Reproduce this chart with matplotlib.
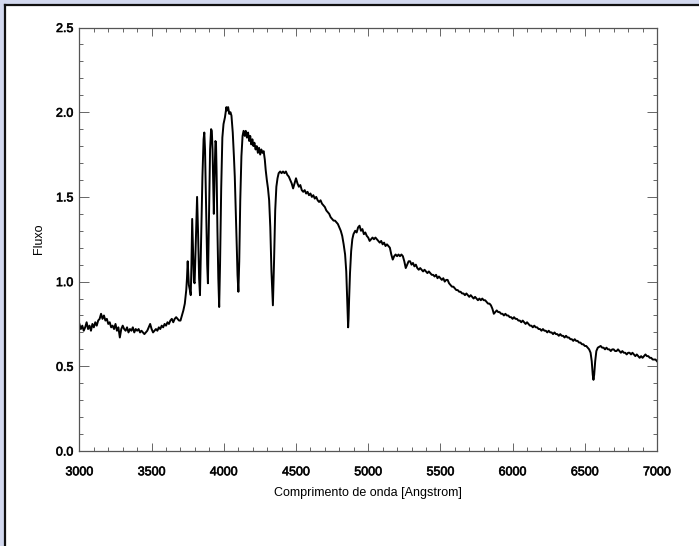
import numpy as np
import matplotlib.pyplot as plt
import matplotlib.patheffects as pe
from matplotlib.lines import Line2D
from matplotlib.patches import Rectangle
from matplotlib.ticker import MultipleLocator

# near-UV continuum, 3000-3720 A every 10 A
uv_wave = np.arange(3000, 3721, 10)
uv_flux = [0.75, 0.72, 0.74, 0.71, 0.73, 0.76, 0.72, 0.74, 0.71, 0.75,
           0.73, 0.76, 0.74, 0.77, 0.78, 0.81, 0.78, 0.80, 0.77, 0.78,
           0.75, 0.76, 0.73, 0.74, 0.72, 0.75, 0.71, 0.73, 0.67, 0.72,
           0.74, 0.72, 0.71, 0.73, 0.70, 0.72, 0.71, 0.73, 0.70, 0.72,
           0.71, 0.72, 0.70, 0.71, 0.70, 0.69, 0.70, 0.71, 0.73, 0.75,
           0.72, 0.70, 0.71, 0.72, 0.71, 0.73, 0.72, 0.74, 0.73, 0.75,
           0.74, 0.76, 0.75, 0.77, 0.78, 0.76, 0.78, 0.79, 0.78, 0.77,
           0.77, 0.80, 0.83]

# Balmer series region (H12 ... H-gamma)
balmer_wave = [3730, 3740, 3745, 3750, 3758, 3765, 3771, 3776, 3781, 3787,
               3793, 3798, 3805, 3815, 3822, 3829, 3835, 3842, 3852, 3860,
               3865, 3870, 3878, 3885, 3890, 3897, 3905, 3912, 3917, 3922,
               3928, 3931, 3936, 3942, 3946, 3950, 3956, 3962, 3968, 3974,
               3982, 3990, 3998, 4008, 4018, 4023, 4030, 4038, 4046, 4053,
               4062, 4070, 4076, 4083, 4090, 4095, 4101, 4107, 4114, 4122,
               4130, 4137, 4145, 4152, 4160, 4168, 4176, 4183, 4190, 4198,
               4205, 4212, 4220, 4228, 4236, 4244, 4252, 4260, 4268, 4276,
               4284, 4290, 4298, 4306, 4314, 4322, 4330, 4340, 4348, 4356,
               4364, 4372, 4380]
balmer_flux = [0.87, 0.95, 1.02, 1.12, 0.98, 0.95, 0.92, 1.10, 1.37, 1.18,
               1.00, 0.99, 1.20, 1.50, 1.28, 1.02, 0.92, 1.20, 1.62, 1.84,
               1.88, 1.78, 1.40, 1.10, 0.99, 1.35, 1.78, 1.90, 1.89, 1.78,
               1.52, 1.40, 1.62, 1.83, 1.82, 1.65, 1.30, 1.02, 0.85, 1.10,
               1.55, 1.85, 1.93, 1.97, 2.03, 2.01, 2.03, 1.99, 2.00, 1.98,
               1.88, 1.74, 1.62, 1.42, 1.20, 1.04, 0.94, 1.12, 1.48, 1.74,
               1.86, 1.89, 1.86, 1.89, 1.85, 1.88, 1.83, 1.86, 1.81, 1.84,
               1.80, 1.82, 1.78, 1.80, 1.76, 1.79, 1.75, 1.78, 1.76, 1.77,
               1.72, 1.66, 1.60, 1.55, 1.48, 1.32, 1.06, 0.86, 1.12, 1.42,
               1.56, 1.61, 1.64]

# blue continuum up to the H-beta wing
blue_wave = np.arange(4390, 4831, 10)
blue_flux = [1.65, 1.64, 1.65, 1.64, 1.65, 1.63, 1.62, 1.60, 1.58, 1.55,
             1.58, 1.61, 1.58, 1.56, 1.57, 1.54, 1.53, 1.54, 1.52, 1.53,
             1.51, 1.52, 1.50, 1.51, 1.49, 1.50, 1.48, 1.47, 1.48, 1.46,
             1.45, 1.44, 1.42, 1.41, 1.40, 1.38, 1.37, 1.36, 1.36, 1.35,
             1.34, 1.32, 1.30, 1.27, 1.22]

hbeta_wave = [4840, 4848, 4854, 4858, 4861, 4864, 4868, 4874, 4882, 4890, 4898]
hbeta_flux = [1.16, 1.06, 0.90, 0.78, 0.73, 0.78, 0.90, 1.05, 1.18, 1.25, 1.28]

# visual continuum 4910-6520 A
vis_wave = np.arange(4910, 6521, 10)
vis_flux = [1.30, 1.29, 1.32, 1.33, 1.30, 1.31, 1.28, 1.29, 1.27, 1.26,
            1.24, 1.25, 1.26, 1.25, 1.26, 1.25, 1.24, 1.23, 1.24, 1.22,
            1.23, 1.21, 1.22, 1.21, 1.20, 1.16, 1.13, 1.15, 1.16, 1.15,
            1.16, 1.15, 1.16, 1.15, 1.12, 1.08, 1.10, 1.12, 1.12, 1.10,
            1.11, 1.09, 1.10, 1.08, 1.07, 1.08, 1.07, 1.06, 1.07, 1.06,
            1.05, 1.06, 1.05, 1.04, 1.04, 1.03, 1.04, 1.02, 1.03, 1.02,
            1.01, 1.02, 1.00, 1.01, 1.01, 0.99, 0.98, 0.97, 0.97, 0.96,
            0.95, 0.95, 0.94, 0.94, 0.93, 0.93, 0.92, 0.93, 0.92, 0.91,
            0.92, 0.91, 0.90, 0.91, 0.90, 0.89, 0.90, 0.89, 0.90, 0.89,
            0.89, 0.88, 0.87, 0.87, 0.86, 0.84, 0.81, 0.82, 0.83, 0.82,
            0.82, 0.81, 0.81, 0.80, 0.81, 0.80, 0.80, 0.79, 0.79, 0.78,
            0.79, 0.78, 0.78, 0.77, 0.77, 0.76, 0.77, 0.76, 0.75, 0.76,
            0.75, 0.74, 0.74, 0.73, 0.74, 0.73, 0.73, 0.72, 0.72, 0.71,
            0.72, 0.71, 0.71, 0.70, 0.71, 0.70, 0.70, 0.69, 0.70, 0.69,
            0.69, 0.68, 0.69, 0.68, 0.68, 0.67, 0.68, 0.67, 0.67, 0.66,
            0.66, 0.65, 0.66, 0.65, 0.65, 0.64, 0.64, 0.63, 0.63, 0.62,
            0.62, 0.61]

halpha_wave = [6530, 6540, 6548, 6555, 6560, 6565, 6572, 6580, 6590, 6600]
halpha_flux = [0.60, 0.58, 0.53, 0.45, 0.42, 0.45, 0.53, 0.59, 0.61, 0.615]

red_wave = np.arange(6610, 7001, 10)
red_flux = [0.62, 0.61, 0.61, 0.60, 0.61, 0.60, 0.60, 0.59, 0.60, 0.60,
            0.59, 0.59, 0.60, 0.59, 0.58, 0.59, 0.58, 0.58, 0.57, 0.58,
            0.58, 0.57, 0.58, 0.57, 0.56, 0.57, 0.56, 0.55, 0.56, 0.55,
            0.56, 0.57, 0.56, 0.56, 0.55, 0.55, 0.54, 0.54, 0.54, 0.53]

wave = np.concatenate([uv_wave, balmer_wave, blue_wave, hbeta_wave,
                       vis_wave, halpha_wave, red_wave])
flux = np.concatenate([uv_flux, balmer_flux, blue_flux, hbeta_flux,
                       vis_flux, halpha_flux, red_flux])

plt.rcParams['font.family'] = 'Liberation Sans'
plt.rcParams['font.size'] = 9

fig = plt.figure(figsize=(6.99, 5.46), dpi=100)
fig.patch.set_facecolor('#d3d9ef')

# white panel with a dark frame on the left and top
W, H = 699.0, 546.0
fig.patches.append(Rectangle((5 / W, 0), 1, 1 - 5 / H, transform=fig.transFigure,
                             facecolor='white', edgecolor='none', zorder=-10))
fig.lines.append(Line2D([5 / W, 5 / W], [0, 1 - 5 / H], transform=fig.transFigure,
                        color='#111111', lw=1.6, zorder=-5))
fig.lines.append(Line2D([5 / W, 1], [1 - 5 / H, 1 - 5 / H], transform=fig.transFigure,
                        color='#111111', lw=1.6, zorder=-5))

ax = fig.add_axes([79.4 / W, 1 - 451 / H, (657 - 79.4) / W, (451 - 27.5) / H])
ax.set_zorder(5)
ax.patch.set_alpha(0)
ax.plot(wave, flux, color='black', lw=1.4)

ax.set_xlim(3000, 7000)
ax.set_ylim(0, 2.5)
ax.xaxis.set_major_locator(MultipleLocator(500))
ax.xaxis.set_minor_locator(MultipleLocator(100))
ax.yaxis.set_major_locator(MultipleLocator(0.5))
ax.yaxis.set_minor_locator(MultipleLocator(0.1))
ax.yaxis.set_major_formatter(plt.FormatStrFormatter('%.1f'))

for s in ax.spines.values():
    s.set_color('#555555')
    s.set_linewidth(0.9)
ax.tick_params(which='both', direction='in', top=True, right=True,
               color='#666666', width=0.7)
ax.tick_params(axis='x', which='major', length=5.8, pad=11)
ax.tick_params(axis='y', which='major', length=7.5, pad=4.4)
ax.tick_params(which='minor', length=3)

ax.set_xlabel('Comprimento de onda [Angstrom]', labelpad=6.5)
ax.set_ylabel('Fluxo', labelpad=8)

# slightly heavier glyphs for the tick numbers
bold = [pe.withStroke(linewidth=0.5, foreground='#222222')]
for lab in ax.get_xticklabels() + ax.get_yticklabels():
    lab.set_path_effects(bold)

fig.savefig('out.png', dpi=100, facecolor=fig.get_facecolor())
